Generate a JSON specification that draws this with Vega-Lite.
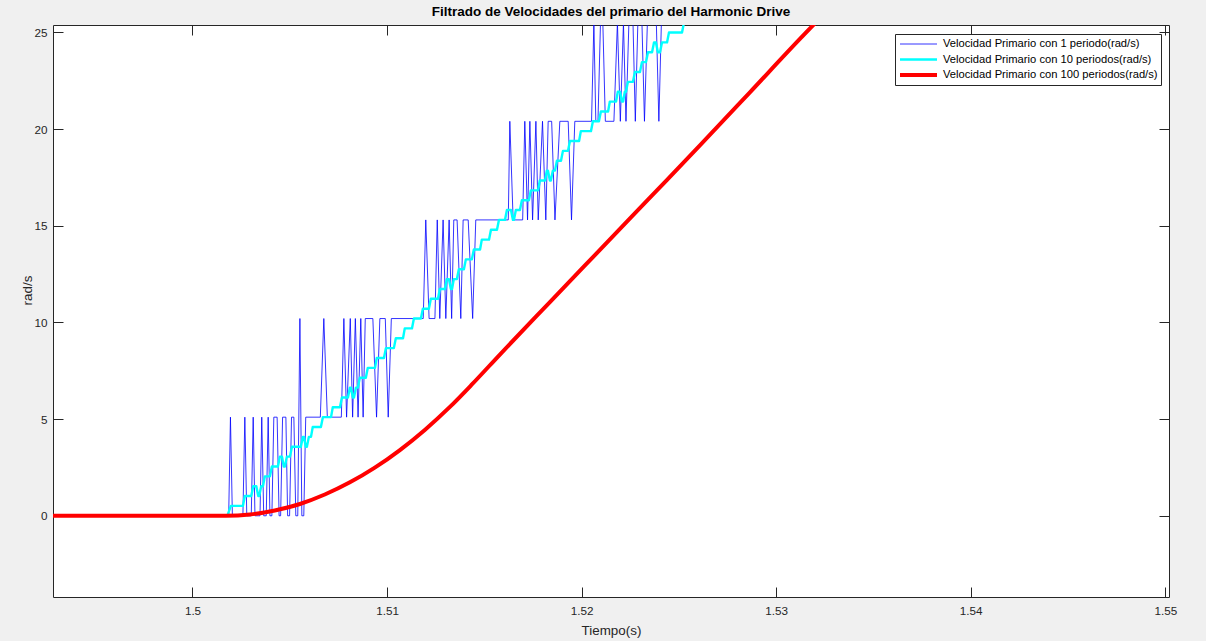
{
  "$schema": "https://vega.github.io/schema/vega-lite/v6.json",
  "width": 1116,
  "height": 572,
  "autosize": "none",
  "padding": {"left": 53, "top": 25, "right": 37, "bottom": 44},
  "background": "#F0F0F0",
  "title": {"text": "Filtrado de Velocidades del primario del Harmonic Drive", "font": "Liberation Sans", "fontSize": 13.5, "fontWeight": "bold", "color": "#000000", "anchor": "middle", "baseline": "alphabetic", "offset": -5},
  "config": {
    "view": {"fill": "white", "stroke": "#262626", "strokeWidth": 1},
    "axis": {"domain": false, "grid": false, "labelFont": "Liberation Sans", "labelFontSize": 11.7, "labelColor": "#262626", "tickColor": "#262626", "tickSize": -10, "titleFont": "Liberation Sans", "titleFontSize": 13.4, "titleColor": "#262626", "titleFontWeight": "normal"},
    "legend": {"orient": "none", "legendX": 842, "legendY": 9, "fillColor": "white", "strokeColor": "#262626", "padding": 3, "rowPadding": 1.5, "clipHeight": 14, "labelFont": "Liberation Sans", "labelFontSize": 11.2, "labelColor": "#000000", "labelLimit": 400, "symbolType": "stroke", "symbolSize": 1369, "labelOffset": 4, "title": null}
  },
  "datasets": {
    "blue": [
      {"s":"a","t":1.492,"v":0},{"s":"a","t":1.50186,"v":0},{"s":"a","t":1.50195,"v":5.1},{"s":"a","t":1.50205,"v":0},{"s":"a","t":1.50259,"v":0},{"s":"a","t":1.50269,"v":5.1},{"s":"a","t":1.50279,"v":0},{"s":"a","t":1.50302,"v":0},{"s":"a","t":1.50312,"v":5.1},{"s":"a","t":1.50321,"v":0},{"s":"a","t":1.50347,"v":0},{"s":"a","t":1.50356,"v":5.1},{"s":"a","t":1.50366,"v":0},{"s":"a","t":1.50379,"v":0},{"s":"a","t":1.50389,"v":5.1},{"s":"a","t":1.50398,"v":0},{"s":"a","t":1.50408,"v":0},{"s":"a","t":1.50418,"v":5.1},{"s":"a","t":1.50435,"v":5.1},{"s":"a","t":1.50445,"v":0},{"s":"a","t":1.50453,"v":0},{"s":"a","t":1.50463,"v":5.1},{"s":"a","t":1.5048,"v":5.1},{"s":"a","t":1.50489,"v":0},{"s":"a","t":1.50499,"v":0},{"s":"a","t":1.50509,"v":5.1},{"s":"a","t":1.50521,"v":5.1},{"s":"a","t":1.50531,"v":0},{"s":"a","t":1.50541,"v":0},{"s":"a","t":1.50552,"v":10.2},{"s":"a","t":1.50562,"v":0},{"s":"a","t":1.50572,"v":0},{"s":"a","t":1.50582,"v":5.1},{"s":"a","t":1.50657,"v":5.1},{"s":"a","t":1.50675,"v":10.2},{"s":"a","t":1.50693,"v":5.1},{"s":"a","t":1.50765,"v":5.1},{"s":"a","t":1.50778,"v":10.2},{"s":"a","t":1.50792,"v":5.1},{"s":"a","t":1.50811,"v":10.2},{"s":"a","t":1.50823,"v":5.1},{"s":"a","t":1.50837,"v":10.2},{"s":"a","t":1.50851,"v":5.1},{"s":"a","t":1.50865,"v":10.2},{"s":"a","t":1.50877,"v":5.1},{"s":"a","t":1.50888,"v":10.2},{"s":"a","t":1.50927,"v":10.2},{"s":"a","t":1.50946,"v":5.1},{"s":"a","t":1.50963,"v":10.2},{"s":"a","t":1.50991,"v":10.2},{"s":"a","t":1.51006,"v":5.1},{"s":"a","t":1.51022,"v":10.2},{"s":"a","t":1.51186,"v":10.2},{"s":"a","t":1.51199,"v":15.3},{"s":"a","t":1.51216,"v":10.2},{"s":"a","t":1.51246,"v":10.2},{"s":"a","t":1.51258,"v":15.3},{"s":"a","t":1.51271,"v":10.2},{"s":"a","t":1.51288,"v":15.3},{"s":"a","t":1.51302,"v":10.2},{"s":"a","t":1.51319,"v":15.3},{"s":"a","t":1.51332,"v":10.2},{"s":"a","t":1.51343,"v":15.3},{"s":"a","t":1.5136,"v":15.3},{"s":"a","t":1.51379,"v":10.2},{"s":"a","t":1.51391,"v":15.3},{"s":"a","t":1.51417,"v":15.3},{"s":"a","t":1.5144,"v":10.2},{"s":"a","t":1.51456,"v":15.3},{"s":"a","t":1.51623,"v":15.3},{"s":"a","t":1.51631,"v":20.4},{"s":"a","t":1.51648,"v":15.3},{"s":"a","t":1.51697,"v":15.3},{"s":"a","t":1.51708,"v":20.4},{"s":"a","t":1.51722,"v":15.3},{"s":"a","t":1.51734,"v":20.4},{"s":"a","t":1.51748,"v":15.3},{"s":"a","t":1.51765,"v":20.4},{"s":"a","t":1.51777,"v":15.3},{"s":"a","t":1.51799,"v":20.4},{"s":"a","t":1.51816,"v":15.3},{"s":"a","t":1.51828,"v":20.4},{"s":"a","t":1.51846,"v":20.4},{"s":"a","t":1.51863,"v":15.3},{"s":"a","t":1.51888,"v":20.4},{"s":"a","t":1.51931,"v":20.4},{"s":"a","t":1.51948,"v":15.3},{"s":"a","t":1.51965,"v":20.4},{"s":"a","t":1.52051,"v":20.4},{"s":"a","t":1.52063,"v":25.5},{"s":"a","t":1.52073,"v":20.4},{"s":"a","t":1.52084,"v":20.4},{"s":"a","t":1.52097,"v":25.5},{"s":"a","t":1.52109,"v":25.5},{"s":"a","t":1.52122,"v":20.4},{"s":"a","t":1.52166,"v":20.4},{"s":"a","t":1.52184,"v":25.5},{"s":"a","t":1.52199,"v":20.4},{"s":"a","t":1.52215,"v":25.5},{"s":"a","t":1.52228,"v":20.4},{"s":"a","t":1.52243,"v":25.5},{"s":"a","t":1.52264,"v":25.5},{"s":"a","t":1.52276,"v":20.4},{"s":"a","t":1.52289,"v":25.5},{"s":"a","t":1.5231,"v":25.5},{"s":"a","t":1.52323,"v":20.4},{"s":"a","t":1.52338,"v":25.5},{"s":"a","t":1.52384,"v":25.5},{"s":"a","t":1.52397,"v":20.4},{"s":"a","t":1.5241,"v":25.5},{"s":"a","t":1.53,"v":25.5},{"s":"a","t":1.531,"v":30.6}
    ],
    "cyan": [
      {"s":"b","t":1.492,"v":0},{"s":"b","t":1.50179,"v":0},{"s":"b","t":1.50197,"v":0.51},{"s":"b","t":1.50259,"v":0.51},{"s":"b","t":1.50269,"v":1.02},{"s":"b","t":1.50302,"v":1.02},{"s":"b","t":1.50312,"v":1.53},{"s":"b","t":1.50328,"v":1.53},{"s":"b","t":1.50338,"v":1.02},{"s":"b","t":1.50343,"v":1.02},{"s":"b","t":1.50353,"v":1.53},{"s":"b","t":1.50362,"v":1.53},{"s":"b","t":1.50372,"v":2.04},{"s":"b","t":1.50398,"v":2.04},{"s":"b","t":1.50408,"v":2.55},{"s":"b","t":1.50439,"v":2.55},{"s":"b","t":1.50449,"v":3.06},{"s":"b","t":1.5046,"v":3.06},{"s":"b","t":1.50469,"v":2.55},{"s":"b","t":1.50475,"v":2.55},{"s":"b","t":1.50485,"v":3.06},{"s":"b","t":1.50501,"v":3.06},{"s":"b","t":1.50511,"v":3.57},{"s":"b","t":1.50557,"v":3.57},{"s":"b","t":1.50567,"v":4.08},{"s":"b","t":1.50573,"v":4.08},{"s":"b","t":1.50582,"v":3.57},{"s":"b","t":1.50588,"v":3.57},{"s":"b","t":1.50598,"v":4.08},{"s":"b","t":1.50609,"v":4.08},{"s":"b","t":1.50618,"v":4.59},{"s":"b","t":1.5066,"v":4.59},{"s":"b","t":1.5067,"v":5.1},{"s":"b","t":1.50712,"v":5.1},{"s":"b","t":1.50721,"v":5.61},{"s":"b","t":1.50758,"v":5.61},{"s":"b","t":1.50768,"v":6.12},{"s":"b","t":1.50799,"v":6.12},{"s":"b","t":1.50809,"v":6.63},{"s":"b","t":1.50814,"v":6.63},{"s":"b","t":1.50824,"v":6.12},{"s":"b","t":1.5083,"v":6.12},{"s":"b","t":1.5084,"v":6.63},{"s":"b","t":1.5085,"v":6.63},{"s":"b","t":1.5086,"v":7.14},{"s":"b","t":1.50891,"v":7.14},{"s":"b","t":1.50901,"v":7.65},{"s":"b","t":1.50938,"v":7.65},{"s":"b","t":1.50947,"v":8.16},{"s":"b","t":1.50984,"v":8.16},{"s":"b","t":1.50994,"v":8.67},{"s":"b","t":1.51035,"v":8.67},{"s":"b","t":1.51045,"v":9.18},{"s":"b","t":1.51082,"v":9.18},{"s":"b","t":1.51091,"v":9.69},{"s":"b","t":1.51128,"v":9.69},{"s":"b","t":1.51138,"v":10.2},{"s":"b","t":1.51174,"v":10.2},{"s":"b","t":1.51184,"v":10.71},{"s":"b","t":1.51215,"v":10.71},{"s":"b","t":1.51225,"v":11.22},{"s":"b","t":1.51262,"v":11.22},{"s":"b","t":1.51271,"v":11.73},{"s":"b","t":1.51298,"v":11.73},{"s":"b","t":1.51307,"v":12.24},{"s":"b","t":1.51318,"v":12.24},{"s":"b","t":1.51328,"v":11.73},{"s":"b","t":1.51334,"v":11.73},{"s":"b","t":1.51343,"v":12.24},{"s":"b","t":1.51359,"v":12.24},{"s":"b","t":1.51369,"v":12.75},{"s":"b","t":1.51395,"v":12.75},{"s":"b","t":1.51405,"v":13.26},{"s":"b","t":1.51436,"v":13.26},{"s":"b","t":1.51446,"v":13.77},{"s":"b","t":1.51478,"v":13.77},{"s":"b","t":1.51487,"v":14.28},{"s":"b","t":1.51524,"v":14.28},{"s":"b","t":1.51534,"v":14.79},{"s":"b","t":1.51565,"v":14.79},{"s":"b","t":1.51575,"v":15.3},{"s":"b","t":1.51606,"v":15.3},{"s":"b","t":1.51616,"v":15.81},{"s":"b","t":1.51637,"v":15.81},{"s":"b","t":1.51647,"v":15.3},{"s":"b","t":1.51652,"v":15.3},{"s":"b","t":1.51662,"v":15.81},{"s":"b","t":1.51683,"v":15.81},{"s":"b","t":1.51693,"v":16.32},{"s":"b","t":1.51729,"v":16.32},{"s":"b","t":1.51739,"v":16.83},{"s":"b","t":1.51776,"v":16.83},{"s":"b","t":1.51785,"v":17.34},{"s":"b","t":1.51812,"v":17.34},{"s":"b","t":1.51821,"v":17.85},{"s":"b","t":1.51827,"v":17.85},{"s":"b","t":1.51837,"v":17.34},{"s":"b","t":1.51842,"v":17.34},{"s":"b","t":1.51852,"v":17.85},{"s":"b","t":1.51863,"v":17.85},{"s":"b","t":1.51873,"v":18.36},{"s":"b","t":1.51894,"v":18.36},{"s":"b","t":1.51904,"v":18.87},{"s":"b","t":1.5193,"v":18.87},{"s":"b","t":1.5194,"v":19.38},{"s":"b","t":1.51987,"v":19.38},{"s":"b","t":1.51996,"v":19.89},{"s":"b","t":1.52048,"v":19.89},{"s":"b","t":1.52058,"v":20.4},{"s":"b","t":1.52089,"v":20.4},{"s":"b","t":1.52099,"v":20.91},{"s":"b","t":1.52136,"v":20.91},{"s":"b","t":1.52145,"v":21.42},{"s":"b","t":1.52177,"v":21.42},{"s":"b","t":1.52186,"v":21.93},{"s":"b","t":1.52197,"v":21.93},{"s":"b","t":1.52207,"v":21.42},{"s":"b","t":1.52213,"v":21.42},{"s":"b","t":1.52222,"v":21.93},{"s":"b","t":1.52228,"v":21.93},{"s":"b","t":1.52238,"v":22.44},{"s":"b","t":1.52264,"v":22.44},{"s":"b","t":1.52274,"v":22.95},{"s":"b","t":1.523,"v":22.95},{"s":"b","t":1.5231,"v":23.46},{"s":"b","t":1.52331,"v":23.46},{"s":"b","t":1.52341,"v":23.97},{"s":"b","t":1.52362,"v":23.97},{"s":"b","t":1.52372,"v":24.48},{"s":"b","t":1.52382,"v":24.48},{"s":"b","t":1.52392,"v":23.97},{"s":"b","t":1.52403,"v":23.97},{"s":"b","t":1.52413,"v":24.48},{"s":"b","t":1.52439,"v":24.48},{"s":"b","t":1.52449,"v":24.99},{"s":"b","t":1.52516,"v":24.99},{"s":"b","t":1.52526,"v":25.5},{"s":"b","t":1.52608,"v":25.5},{"s":"b","t":1.5262,"v":26.01},{"s":"b","t":1.53,"v":28}
    ],
    "red": [
      {"s":"c","t":1.492,"v":0},{"s":"c","t":1.5,"v":0},{"s":"c","t":1.50171,"v":0},{"s":"c","t":1.50295,"v":0.065},{"s":"c","t":1.50423,"v":0.27},{"s":"c","t":1.50552,"v":0.61},{"s":"c","t":1.5068,"v":1.1},{"s":"c","t":1.50809,"v":1.73},{"s":"c","t":1.50937,"v":2.49},{"s":"c","t":1.51066,"v":3.4},{"s":"c","t":1.51194,"v":4.44},{"s":"c","t":1.51323,"v":5.63},{"s":"c","t":1.51436,"v":6.79},{"s":"c","t":1.5158,"v":8.34},{"s":"c","t":1.51837,"v":11.05},{"s":"c","t":1.52094,"v":13.75},{"s":"c","t":1.52351,"v":16.45},{"s":"c","t":1.52608,"v":19.15},{"s":"c","t":1.52865,"v":21.9},{"s":"c","t":1.53122,"v":24.66},{"s":"c","t":1.53328,"v":26.8}
    ]
  },
  "layer": [
    {
      "data": {"name": "blue"},
      "mark": {"type": "line", "clip": true, "strokeJoin": "miter"},
      "encoding": {
        "x": {"field": "t", "type": "quantitative", "scale": {"domain": [1.49283, 1.55019], "nice": false, "zero": false}, "axis": {"orient": "bottom", "values": [1.5, 1.51, 1.52, 1.53, 1.54, 1.55], "format": "~f", "labelPadding": 18, "title": "Tiempo(s)", "titleX": 558, "titleY": 37, "titleBaseline": "alphabetic", "titleAnchor": "middle"}},
        "y": {"field": "v", "type": "quantitative", "scale": {"domain": [-4.2, 25.38], "nice": false, "zero": false}, "axis": {"orient": "left", "values": [0, 5, 10, 15, 20, 25], "labelPadding": 16, "title": "rad/s", "titleX": -26, "titleY": 265, "titleAngle": -90, "titleAlign": "center", "titleBaseline": "middle"}},
        "color": {"field": "s", "type": "nominal", "scale": {"domain": ["a", "b", "c"], "range": ["#0000FF", "#00FFFF", "#FF0000"]}, "legend": {"labelExpr": "datum.value == 'a' ? 'Velocidad Primario con 1 periodo(rad/s)' : datum.value == 'b' ? 'Velocidad Primario con 10 periodos(rad/s)' : 'Velocidad Primario con 100 periodos(rad/s)'"}},
        "strokeWidth": {"field": "s", "type": "nominal", "scale": {"type": "point", "domain": ["a", "b", "c"], "range": [0.8, 4]}, "legend": {"labelExpr": "datum.value == 'a' ? 'Velocidad Primario con 1 periodo(rad/s)' : datum.value == 'b' ? 'Velocidad Primario con 10 periodos(rad/s)' : 'Velocidad Primario con 100 periodos(rad/s)'"}}
      }
    },
    {
      "data": {"name": "cyan"},
      "mark": {"type": "line", "clip": true, "strokeJoin": "round"},
      "encoding": {
        "x": {"field": "t", "type": "quantitative", "axis": null},
        "y": {"field": "v", "type": "quantitative", "axis": null},
        "color": {"field": "s", "type": "nominal"},
        "strokeWidth": {"field": "s", "type": "nominal"}
      }
    },
    {
      "data": {"name": "red"},
      "mark": {"type": "line", "clip": true, "strokeJoin": "round", "interpolate": "monotone"},
      "encoding": {
        "x": {"field": "t", "type": "quantitative", "axis": {"orient": "top", "values": [1.5, 1.51, 1.52, 1.53, 1.54, 1.55], "labels": false, "title": null}},
        "y": {"field": "v", "type": "quantitative", "axis": {"orient": "right", "values": [0, 5, 10, 15, 20, 25], "labels": false, "title": null}},
        "color": {"field": "s", "type": "nominal"},
        "strokeWidth": {"field": "s", "type": "nominal"}
      }
    }
  ],
  "resolve": {"axis": {"x": "independent", "y": "independent"}}
}
